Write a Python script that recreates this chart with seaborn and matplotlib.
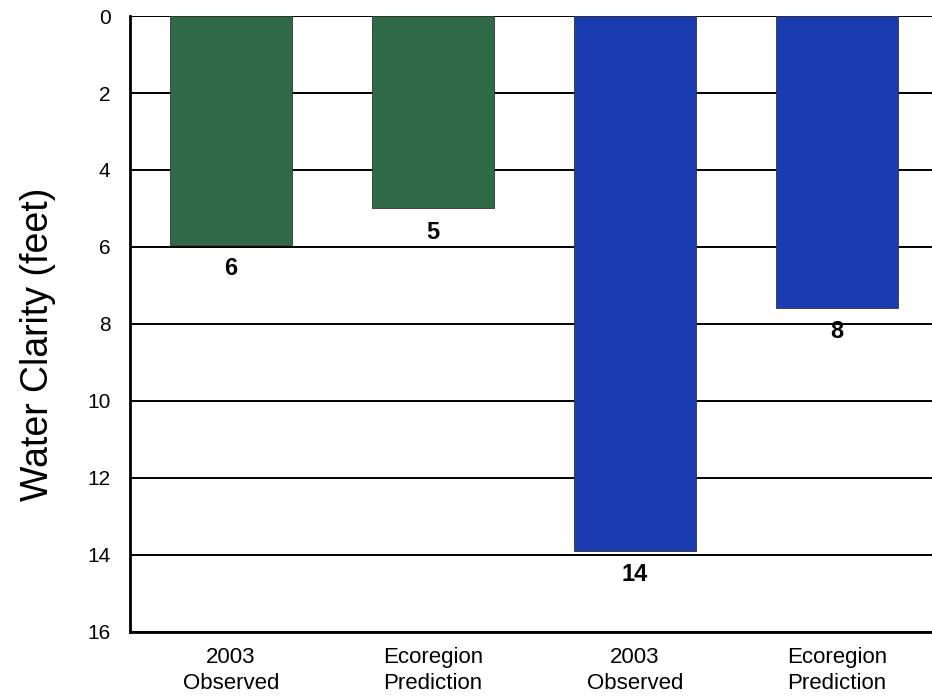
import matplotlib
matplotlib.use("Agg")
import matplotlib.pyplot as plt
import pandas as pd
import seaborn as sns

# data
bar_ids = ["green_obs", "green_pred", "blue_obs", "blue_pred"]
tick_labels = ["2003\nObserved", "Ecoregion\nPrediction", "2003\nObserved", "Ecoregion\nPrediction"]
clarity = [5.95, 5.0, 13.9, 7.58]
value_labels = ["6", "5", "14", "8"]
bar_colors = ["#2f6a47", "#2f6a47", "#1b3cb0", "#1b3cb0"]

df = pd.DataFrame({"bar": bar_ids, "clarity": clarity})

sns.set_style("white")
plt.rcParams["font.family"] = ["Liberation Sans", "DejaVu Sans"]
plt.rcParams["text.color"] = "black"
plt.rcParams["xtick.color"] = "black"
plt.rcParams["ytick.color"] = "black"

fig = plt.figure(figsize=(9.32, 6.96), dpi=100)
ax = fig.add_axes([0.1395, 0.092, 0.8605, 0.885])

sns.barplot(data=df, x="bar", y="clarity", hue="bar", order=bar_ids,
            palette=dict(zip(bar_ids, bar_colors)), legend=False,
            width=0.6, edgecolor="#333333", linewidth=0.6, saturation=1, ax=ax)

ax.set_ylim(16, 0)
ax.set_xlim(-0.5, 3.47)
ax.set_yticks(range(0, 17, 2))
ax.set_xticks(range(len(bar_ids)))
ax.set_xticklabels(tick_labels, fontsize=16, linespacing=1.3)
ax.tick_params(axis="y", length=0, pad=14, labelsize=15)
ax.tick_params(axis="x", length=0, pad=11)

ax.set_axisbelow(True)
ax.yaxis.grid(True, color="black", linewidth=1.4)
ax.xaxis.grid(False)

ax.spines["right"].set_visible(False)
ax.spines["top"].set_visible(False)
for side in ["left", "bottom"]:
    ax.spines[side].set_linewidth(2)
    ax.spines[side].set_color("black")

for i, (v, lab) in enumerate(zip(clarity, value_labels)):
    ax.text(i, v + 0.62, lab, ha="center", va="center", fontsize=17,
            fontweight="bold")

ax.set_xlabel("")
ax.set_ylabel("")
fig.text(38 / 932, 1 - 344 / 696, "Water Clarity (feet)", rotation=90,
         ha="center", va="center", fontsize=27)

fig.savefig("out.png", dpi=100)
